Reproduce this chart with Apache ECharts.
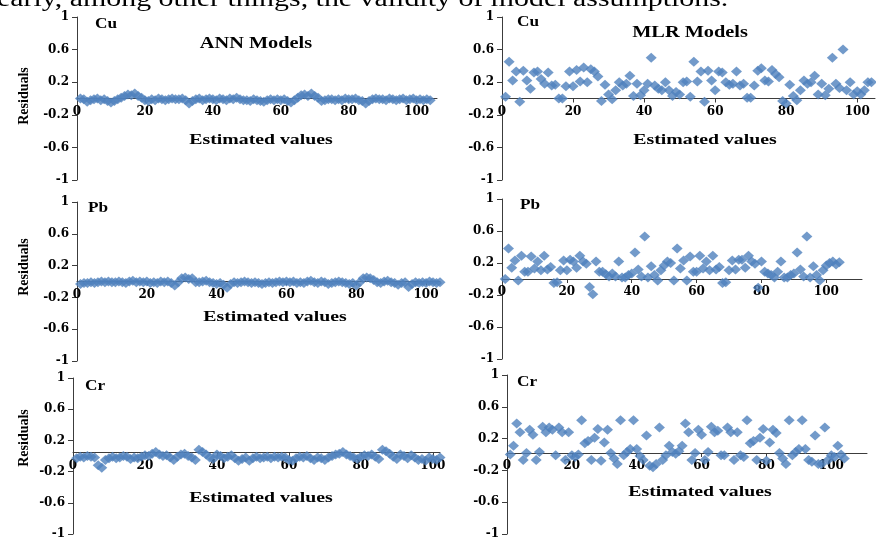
<!DOCTYPE html>
<html>
<head>
<meta charset="utf-8">
<script src="https://cdn.jsdelivr.net/npm/echarts@6/dist/echarts.min.js"></script>
<style>
  html, body { margin: 0; padding: 0; background: #fff; }
  #chart { width: 876px; height: 540px; }
</style>
</head>
<body>
<div id="chart"></div>
<script>
// residuals, one value per sample (x = 1, 2, 3 ...)
var cuAnn = [0, -0.01, -0.04, -0.02, -0.01, 0, -0.02, -0.01, -0.03, -0.05,
  -0.03, -0.01, 0.01, 0.03, 0.05, 0.04, 0.06, 0.03, 0.01, -0.02,
  -0.03, -0.01, -0.02, 0, -0.01, -0.02, -0.01, 0, -0.01, -0.01,
  0, -0.02, -0.06, -0.03, -0.01, 0, -0.02, -0.01, 0, -0.01,
  -0.02, 0, -0.01, -0.02, 0, -0.01, 0.01, -0.01, -0.02, -0.02,
  -0.03, -0.01, -0.02, -0.03, -0.04, -0.02, -0.01, -0.02, -0.01, -0.02,
  -0.01, -0.03, -0.05, -0.02, 0.01, 0.04, 0.05, 0.03, 0.06, 0.03,
  0.01, -0.03, -0.02, -0.01, -0.01, -0.02, -0.01, -0.02, 0, -0.01,
  -0.01, 0, -0.02, -0.03, -0.06, -0.03, -0.01, 0, -0.01, -0.01,
  -0.02, 0, -0.01, -0.02, -0.01, 0, -0.02, -0.01, 0, -0.02,
  -0.01, -0.02, -0.01, -0.02];

var cuMlr = [0.02, 0.45, 0.22, 0.33, -0.04, 0.34, 0.22, 0.12, 0.32, 0.33,
  0.24, 0.18, 0.32, 0.16, 0.17, 0, 0, 0.15, 0.33, 0.15,
  0.35, 0.21, 0.38, 0.2, 0.36, 0.33, 0.27, -0.03, 0.17, 0.05,
  -0.01, 0.1, 0.2, 0.16, 0.18, 0.28, 0.03, 0.18, 0.04, 0.1,
  0.18, 0.5, 0.16, 0.12, 0.1, 0.2, 0.1, 0.03, 0.08, 0.05,
  0.2, 0.21, 0.02, 0.45, 0.21, 0.33, -0.04, 0.34, 0.22, 0.1,
  0.33, 0.32, 0.2, 0.17, 0.18, 0.33, 0.16, 0.18, 0.01, 0.01,
  0.16, 0.34, 0.37, 0.22, 0.21, 0.35, 0.3, 0.26, -0.03, -0.06,
  0.17, 0.03, -0.02, 0.1, 0.22, 0.18, 0.2, 0.28, 0.05, 0.18,
  0.04, 0.12, 0.5, 0.18, 0.13, 0.6, 0.1, 0.2, 0.05, 0.09,
  0.05, 0.1, 0.2, 0.2];

var pbAnn = [-0.03, -0.02, -0.02, -0.01, -0.02, -0.01, 0, -0.01, 0, -0.01,
  -0.01, 0, -0.01, -0.02, 0, 0.01, -0.01, 0, -0.01, 0,
  -0.02, -0.01, -0.02, 0, -0.01, 0, -0.02, -0.05, -0.01, 0.04,
  0.05, 0.03, 0.04, -0.01, -0.01, 0, 0.01, -0.01, -0.02, -0.03,
  -0.02, -0.04, -0.08, -0.03, -0.01, -0.02, -0.01, 0, -0.01, -0.02,
  -0.01, -0.02, -0.03, -0.02, -0.01, -0.02, -0.01, 0, -0.01, 0,
  -0.01, 0, -0.02, -0.01, -0.02, 0, 0.01, -0.01, -0.02, 0,
  -0.01, -0.03, -0.02, -0.01, 0, -0.01, -0.02, -0.03, -0.02, -0.05,
  -0.01, 0.04, 0.05, 0.04, 0.02, -0.01, -0.02, 0, 0.01, -0.01,
  -0.02, -0.04, -0.02, -0.01, -0.07, -0.03, -0.01, -0.02, -0.01, -0.02,
  0, -0.01, -0.02, -0.01];

var pbMlr = [0, 0.38, 0.14, 0.23, -0.02, 0.29, 0.09, 0.09, 0.28, 0.13,
  0.22, 0.11, 0.29, 0.12, 0.15, -0.05, -0.04, 0.11, 0.23, 0.11,
  0.24, 0.22, 0.14, 0.29, 0.22, 0.19, -0.1, -0.19, 0.22, 0.09,
  0.09, 0.06, 0.03, 0.07, 0.03, 0.22, 0.02, 0.02, 0.05, 0.07,
  0.33, 0.12, 0.03, 0.53, 0.02, 0.16, 0.05, -0.02, 0.11, 0.17,
  0.22, 0.2, -0.02, 0.38, 0.13, 0.23, -0.02, 0.28, 0.09, 0.09,
  0.29, 0.13, 0.22, 0.11, 0.29, 0.12, 0.15, -0.05, -0.04, 0.11,
  0.23, 0.12, 0.24, 0.24, 0.14, 0.29, 0.22, 0.19, -0.11, 0.22,
  0.09, 0.07, 0.05, 0.02, 0.09, 0.22, 0.02, 0.02, 0.05, 0.07,
  0.33, 0.12, 0.03, 0.53, 0.02, 0.16, 0.05, -0.02, 0.11, 0.17,
  0.2, 0.22, 0.18, 0.21];

var crAnn = [-0.03, -0.01, -0.02, 0, -0.01, -0.02, -0.12, -0.15, -0.05, -0.03,
  -0.01, -0.03, -0.02, 0, -0.01, -0.04, -0.02, -0.03, -0.01, 0.01,
  0, 0.03, 0.05, 0.02, 0, 0.01, -0.02, -0.05, -0.01, 0.02,
  0.03, 0, -0.02, -0.05, 0.08, 0.05, 0.02, -0.02, -0.04, 0.02,
  0, -0.03, -0.01, 0.01, -0.03, -0.06, -0.04, -0.02, -0.06, -0.03,
  -0.01, -0.03, -0.02, -0.01, -0.03, -0.01, -0.02, -0.01, -0.02, -0.05,
  -0.06, -0.03, -0.01, -0.02, 0, -0.03, -0.05, -0.02, -0.03, -0.05,
  -0.02, 0, 0.02, 0.03, 0.05, 0.02, 0, -0.02, -0.04, -0.01,
  0.01, 0, 0.02, -0.01, -0.04, 0.08, 0.06, 0.03, -0.01, -0.04,
  0.02, 0, -0.03, 0.01, -0.02, -0.05, -0.04, -0.06, -0.02, -0.04,
  -0.05, -0.02, -0.03, -0.04];

var crMlr = [0, 0.11, 0.39, 0.28, -0.07, 0.02, 0.31, 0.25, -0.07, 0.03,
  0.35, 0.28, 0.34, 0.31, -0.01, 0.34, 0.28, -0.07, 0.28, -0.01,
  -0.03, 0, 0.43, 0.14, 0.17, -0.07, 0.21, 0.32, -0.08, 0.15,
  0.31, 0.02, -0.05, -0.12, 0.43, -0.01, 0.03, 0.07, 0.43, 0.07,
  -0.02, -0.07, 0.24, -0.14, -0.16, -0.12, 0.34, -0.07, -0.01, 0.11,
  0.03, 0.01, 0.04, 0.11, 0.39, 0.28, -0.07, 0.02, 0.31, 0.25,
  -0.07, 0.03, 0.35, 0.28, 0.3, -0.01, -0.01, 0.34, 0.28, -0.07,
  0.28, -0.01, -0.03, 0.43, 0.14, 0.17, -0.07, 0.21, 0.32, -0.08,
  0.15, 0.31, 0.27, 0.02, -0.05, -0.12, 0.43, -0.01, 0.03, 0.07,
  0.43, 0.07, -0.07, -0.09, 0.24, -0.12, -0.12, 0.34, -0.07, -0.01,
  -0.03, 0.11, 0, -0.05];

var xTicks = [0, 20, 40, 60, 80, 100];
var yTicks = [-1, -0.6, -0.2, 0.2, 0.6, 1];

var panels = [
  { data: cuAnn, grid: { left: 77, right: 439, top: 17, bottom: 360 }, xMax: 106 },
  { data: cuMlr, grid: { left: 502, right: 1, top: 17, bottom: 360 }, xMax: 105 },
  { data: pbAnn, grid: { left: 77, right: 436, top: 202, bottom: 179 }, xMax: 104 },
  { data: pbMlr, grid: { left: 502, right: 14, top: 199, bottom: 181 }, xMax: 111 },
  { data: crAnn, grid: { left: 73, right: 436, top: 378, bottom: -1 }, xMax: 102 },
  { data: crMlr, grid: { left: 507, right: 9, top: 375, bottom: 3 }, xMax: 111 }
];

var SERIF = '"Liberation Serif", "DejaVu Serif", serif';
var TICKFONT = '"DejaVu Serif", serif';
var axisColor = '#3c3c3c';
var blue = '#4f81bd';

var grids = [], xAxes = [], yAxes = [], series = [];
panels.forEach(function (p, i) {
  grids.push(Object.assign({ containLabel: false }, p.grid));
  // x axis sits on the zero line, with its labels just below it
  var h = 540 - p.grid.top - p.grid.bottom;
  xAxes.push({
    type: 'value', gridIndex: i, min: 0, max: p.xMax,
    position: 'bottom', offset: -h / 2,
    axisLine: { onZero: false, lineStyle: { color: axisColor, width: 1 } },
    axisTick: { show: true, length: 4, customValues: xTicks, lineStyle: { color: axisColor } },
    axisLabel: { customValues: xTicks, margin: 7, color: '#000', fontFamily: TICKFONT, fontWeight: 'bold', fontSize: 12 },
    splitLine: { show: false }
  });
  yAxes.push({
    type: 'value', gridIndex: i, min: -1, max: 1,
    axisLine: { show: true, onZero: false, lineStyle: { color: axisColor, width: 1 } },
    axisTick: { show: true, length: 5, customValues: yTicks, lineStyle: { color: axisColor } },
    axisLabel: { customValues: yTicks, margin: 8, color: '#000', fontFamily: TICKFONT, fontWeight: 'bold', fontSize: 12 },
    splitLine: { show: false }
  });
  series.push({
    type: 'scatter', xAxisIndex: i, yAxisIndex: i,
    symbol: 'diamond', symbolSize: [11, 10],
    itemStyle: { color: blue },
    data: p.data.map(function (v, k) { return [k + 1, v]; })
  });
});

function label(text, x, y, size, opts) {
  opts = opts || {};
  return {
    type: 'text', x: x, y: y, rotation: opts.rotation || 0,
    scaleX: opts.scaleX || 1, z: 10,
    style: {
      text: text, fill: '#000',
      font: (opts.weight || 'bold') + ' ' + size + 'px ' + SERIF,
      textAlign: opts.align || 'center', textVerticalAlign: 'middle'
    }
  };
}

var texts = [
  label('early, among other things, the validity of model assumptions.', -3, 0, 23, { weight: 'normal', align: 'left', scaleX: 1.3 }),
  label('ANN Models', 256, 44, 16, { scaleX: 1.27 }),
  label('MLR Models', 690, 33, 16, { scaleX: 1.27 }),
  label('Cu', 106, 24, 15, { scaleX: 1.15 }),
  label('Cu', 528, 22, 15, { scaleX: 1.15 }),
  label('Pb', 98, 208, 15, { scaleX: 1.15 }),
  label('Pb', 530, 205, 15, { scaleX: 1.15 }),
  label('Cr', 95, 386, 15, { scaleX: 1.15 }),
  label('Cr', 527, 382, 15, { scaleX: 1.15 }),
  label('Estimated values', 261, 140, 15, { scaleX: 1.32 }),
  label('Estimated values', 705, 140, 15, { scaleX: 1.32 }),
  label('Estimated values', 275, 317, 15, { scaleX: 1.32 }),
  label('Estimated values', 261, 498, 15, { scaleX: 1.32 }),
  label('Estimated values', 700, 492, 15, { scaleX: 1.32 }),
  label('Residuals', 24, 96, 14, { rotation: Math.PI / 2 }),
  label('Residuals', 24, 267, 14, { rotation: Math.PI / 2 }),
  label('Residuals', 24, 438, 14, { rotation: Math.PI / 2 })
];

var chart = echarts.init(document.getElementById('chart'), null, { renderer: 'canvas' });
chart.setOption({
  animation: false,
  backgroundColor: '#fff',
  grid: grids,
  xAxis: xAxes,
  yAxis: yAxes,
  series: series,
  graphic: texts
});
</script>
</body>
</html>
